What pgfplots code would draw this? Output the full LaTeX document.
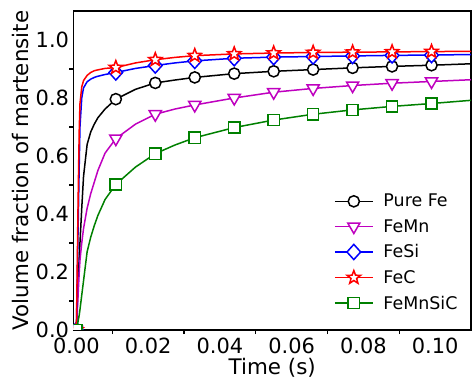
\documentclass[border=0pt]{standalone}
\usepackage{pgfplots}
\usepackage{pgfplotstable}
\pgfplotsset{compat=1.18}
\usepackage{fontspec}
\setmainfont{DejaVu Sans}
\definecolor{mM}{rgb}{0.75,0,0.75}
\definecolor{gG}{rgb}{0,0.5,0}

\pgfdeclareplotmark{fstar}{%
  \pgfpathmoveto{\pgfpointpolar{90}{\pgfplotmarksize}}%
  \pgfpathlineto{\pgfpointpolar{126}{0.42\pgfplotmarksize}}%
  \pgfpathlineto{\pgfpointpolar{162}{\pgfplotmarksize}}%
  \pgfpathlineto{\pgfpointpolar{198}{0.42\pgfplotmarksize}}%
  \pgfpathlineto{\pgfpointpolar{234}{\pgfplotmarksize}}%
  \pgfpathlineto{\pgfpointpolar{270}{0.42\pgfplotmarksize}}%
  \pgfpathlineto{\pgfpointpolar{306}{\pgfplotmarksize}}%
  \pgfpathlineto{\pgfpointpolar{342}{0.42\pgfplotmarksize}}%
  \pgfpathlineto{\pgfpointpolar{18}{\pgfplotmarksize}}%
  \pgfpathlineto{\pgfpointpolar{54}{0.42\pgfplotmarksize}}%
  \pgfpathclose
  \pgfusepathqfillstroke
}
\pgfdeclareplotmark{fdiam}{%
  \pgfpathmoveto{\pgfqpoint{0pt}{\pgfplotmarksize}}%
  \pgfpathlineto{\pgfqpoint{0.9\pgfplotmarksize}{0pt}}%
  \pgfpathlineto{\pgfqpoint{0pt}{-\pgfplotmarksize}}%
  \pgfpathlineto{\pgfqpoint{-0.9\pgfplotmarksize}{0pt}}%
  \pgfpathclose
  \pgfusepathqfillstroke
}

\pgfplotstableread{
t       fe     femn   fesi   fec    femnsic
0       0      0      0      0      0
0.0002  0.07   0.05   0.14   0.18   0.012
0.0004  0.14   0.10   0.29   0.37   0.025
0.0006  0.20   0.15   0.43   0.54   0.038
0.0008  0.25   0.20   0.57   0.69   0.052
0.001   0.30   0.24   0.70   0.78   0.070
0.0015  0.42   0.30   0.80   0.838  0.120
0.002   0.53   0.35   0.835  0.860  0.170
0.003   0.64   0.42   0.856  0.878  0.270
0.004   0.683  0.47   0.865  0.888  0.320
0.005   0.71   0.51   0.871  0.894  0.360
0.006   0.732  0.55   0.875  0.897  0.395
0.008   0.762  0.61   0.881  0.902  0.450
0.011   0.796  0.66   0.888  0.905  0.502
0.0165  0.83   0.71   0.902  0.921  0.562
0.022   0.852  0.744  0.912  0.932  0.608
0.0275  0.862  0.762  0.921  0.940  0.638
0.033   0.871  0.776  0.928  0.946  0.663
0.044   0.884  0.800  0.937  0.952  0.698
0.055   0.892  0.820  0.941  0.955  0.724
0.066   0.898  0.833  0.943  0.957  0.744
0.077   0.904  0.843  0.945  0.958  0.759
0.088   0.909  0.851  0.947  0.959  0.771
0.099   0.913  0.857  0.948  0.960  0.781
0.11    0.918  0.863  0.950  0.961  0.792
}\lines

\pgfplotstableread{
t       fe     femn   fesi   fec    femnsic
0       0      0      0      0      0
0.011   0.796  0.66   0.888  0.905  0.502
0.022   0.852  0.744  0.912  0.932  0.608
0.033   0.871  0.776  0.928  0.946  0.663
0.044   0.884  0.800  0.937  0.952  0.698
0.055   0.892  0.820  0.941  0.955  0.724
0.066   0.898  0.833  0.943  0.957  0.744
0.077   0.904  0.843  0.945  0.958  0.759
0.088   0.909  0.851  0.947  0.959  0.771
0.099   0.913  0.857  0.948  0.960  0.781
}\marks

\begin{document}
\begin{tikzpicture}
\begin{axis}[
  scale only axis,
  width=397.5bp, height=319bp,
  xmin=-0.0008, xmax=0.11,
  ymin=0, ymax=1.1,
  clip marker paths=true,
  axis line style={line width=1.5bp},
  xtick={0,0.02,0.04,0.06,0.08,0.10},
  ytick={0,0.2,0.4,0.6,0.8,1.0},
  minor xtick={0.01,0.03,0.05,0.07,0.09},
  minor ytick={0.1,0.3,0.5,0.7,0.9},
  tick pos=left,
  tick align=outside,
  major tick length=0pt,
  minor tick length=4bp,
  every tick/.style={black, line width=1.2bp},
  /pgf/number format/assume math mode=true,
  xticklabel style={/pgf/number format/.cd, fixed, fixed zerofill, precision=2},
  yticklabel style={/pgf/number format/.cd, fixed, fixed zerofill, precision=1},
  xticklabel shift=4bp,
  yticklabel shift=1bp,
  scaled x ticks=false,
  tick label style={font=\fontsize{21}{25}\selectfont},
  label style={font=\fontsize{21.5}{25}\selectfont},
  xlabel={Time (s)},
  xlabel shift=-1.5bp,
  ylabel={Volume fraction of martensite},
  legend style={draw=none, fill=none, at={(0.979,0.048)}, anchor=south east,
    font=\fontsize{17.5}{21}\selectfont, row sep=7bp},
  legend cell align=left,
  legend image code/.code={%
    \draw (0cm,0cm) -- (1.34cm,0cm);
    \draw plot coordinates {(0.67cm,0cm)};
    \path (1.62cm,0cm);},
  every axis plot/.append style={line width=1.5bp},
]
\addplot[black, forget plot] table[x=t,y=fe]{\lines};
\addplot[black, only marks, mark=*, mark size=5.6bp, mark options={fill=white}] table[x=t,y=fe]{\marks};
\addlegendentry{Pure Fe}
\addplot[mM, forget plot] table[x=t,y=femn]{\lines};
\addplot[mM, only marks, mark=triangle*, mark size=7bp, mark options={fill=white, rotate=180}] table[x=t,y=femn]{\marks};
\addlegendentry{FeMn}
\addplot[blue, forget plot] table[x=t,y=fesi]{\lines};
\addplot[blue, only marks, mark=fdiam, mark size=7.6bp, mark options={fill=white}] table[x=t,y=fesi]{\marks};
\addlegendentry{FeSi}
\addplot[red, forget plot] table[x=t,y=fec]{\lines};
\addplot[red, only marks, mark=fstar, mark size=7bp, mark options={fill=white}] table[x=t,y=fec]{\marks};
\addlegendentry{FeC}
\addplot[gG, forget plot] table[x=t,y=femnsic]{\lines};
\addplot[gG, only marks, mark=square*, mark size=5.6bp, mark options={fill=white}] table[x=t,y=femnsic]{\marks};
\addlegendentry{FeMnSiC}
\end{axis}
\pgfresetboundingbox
\path ([xshift=-73.5bp,yshift=-51bp]current axis.south west) rectangle ([xshift=2bp,yshift=11bp]current axis.north east);
\end{tikzpicture}
\end{document}
